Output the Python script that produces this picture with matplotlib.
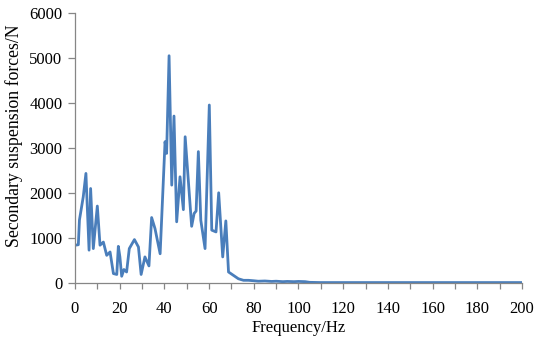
import matplotlib
matplotlib.use("Agg")
import matplotlib.pyplot as plt
from matplotlib.ticker import MultipleLocator

frequency_hz = [0.0, 1.5, 2.0, 3.7, 4.9, 6.3, 7.0, 8.2, 10.0, 11.2, 12.7, 14.2, 15.7,
                17.2, 18.7, 19.4, 20.1, 20.9, 21.9, 23.1, 24.3, 26.6, 28.4, 29.6, 31.3,
                33.1, 34.3, 35.8, 38.1, 40.3, 41.0, 42.1, 43.3, 44.3, 45.5, 47.0, 48.5,
                49.3, 52.2, 53.3, 54.2, 55.2, 56.3, 58.2, 60.1, 61.2, 63.1, 64.3, 66.1,
                67.5, 68.7, 70.9, 73.1, 75.4, 77.6, 80, 82, 85, 88, 90, 93, 95, 98, 100,
                103, 105, 110, 120, 130, 140, 150, 160, 170, 180, 190, 200]
force_n = [840, 850, 1400, 1915, 2435, 730, 2100, 765, 1710, 840, 910, 615, 690,
           210, 190, 815, 580, 150, 300, 245, 765, 965, 800, 190, 580,
           380, 1455, 1210, 650, 3140, 2880, 5050, 2175, 3710, 1360, 2360, 1630,
           3250, 1260, 1545, 1600, 2920, 1395, 765, 3955, 1175, 1135, 2005, 580,
           1380, 245, 170, 95, 60, 60, 50, 40, 45, 35, 40, 30, 35, 30, 35,
           30, 15, 10, 10, 10, 10, 10, 10, 10, 10, 10, 10]

x_ticks = [0, 20, 40, 60, 80, 100, 120, 140, 160, 180, 200]
y_ticks = [0, 1000, 2000, 3000, 4000, 5000, 6000]

plt.rcParams['font.family'] = ['Liberation Serif', 'DejaVu Serif']

fig = plt.figure(figsize=(5.34, 3.40), dpi=100)
ax = fig.add_axes([0.1404, 0.1676, 0.8371, 0.7942])

ax.plot(frequency_hz, force_n, color='#4A7EBB', linewidth=2.0, solid_joinstyle='round')

ax.set_xlim(0, 200)
ax.set_ylim(0, 6000)
ax.set_xticks(x_ticks)
ax.set_yticks(y_ticks)
ax.xaxis.set_minor_locator(MultipleLocator(10))

for s in ['top', 'right']:
    ax.spines[s].set_visible(False)
for s in ['left', 'bottom']:
    ax.spines[s].set_color('#868686')
    ax.spines[s].set_linewidth(0.9)

ax.tick_params(axis='x', which='both', direction='out', length=4, width=0.9,
               color='#868686', labelsize=12, pad=9)
ax.tick_params(axis='y', which='both', direction='out', length=5, width=0.9,
               color='#868686', labelsize=12, pad=4)

ax.set_xlabel('Frequency/Hz', fontsize=12)
ax.set_ylabel('Secondary suspension forces/N', fontsize=12.8)
ax.xaxis.set_label_coords(0.50, -0.137)
ax.yaxis.set_label_coords(-0.116, 0.545)

fig.savefig('out.png', dpi=100)
